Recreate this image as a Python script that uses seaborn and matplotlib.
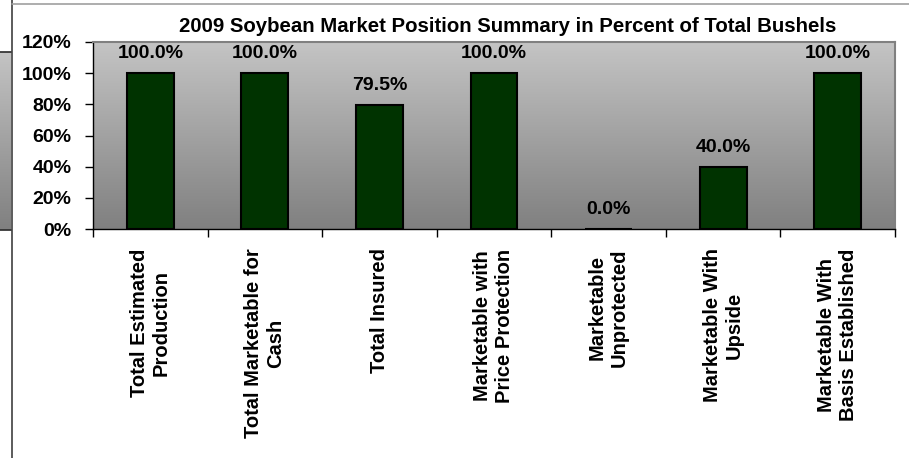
import numpy as np
import matplotlib.pyplot as plt
import seaborn as sns
from matplotlib.colors import LinearSegmentedColormap
from matplotlib.lines import Line2D

categories = [
    "Total Estimated\nProduction",
    "Total Marketable for\nCash",
    "Total Insured",
    "Marketable with\nPrice Protection",
    "Marketable\nUnprotected",
    "Marketable With\nUpside",
    "Marketable With\nBasis Established",
]
percent_of_bushels = [100.0, 100.0, 79.5, 100.0, 0.0, 40.0, 100.0]
y_ticks = [0, 20, 40, 60, 80, 100, 120]
title = "2009 Soybean Market Position Summary in Percent of Total Bushels"

sns.set_theme(style="white")
plt.rcParams["font.family"] = ["Liberation Sans", "DejaVu Sans"]
plt.rcParams["font.weight"] = "bold"
plt.rcParams["text.color"] = "black"
plt.rcParams["xtick.color"] = "black"
plt.rcParams["ytick.color"] = "black"

W, H = 909, 458
fig = plt.figure(figsize=(W / 100, H / 100), dpi=100)
fig.patch.set_facecolor("white")

# cropped neighbour chart on the far left, plus the sheet edges
grey = LinearSegmentedColormap.from_list("excel_grey", ["#808080", "#c4c4c4"])
grad = np.linspace(0, 1, 256).reshape(-1, 1)
side = fig.add_axes([0, 1 - 230 / H, 11 / W, (230 - 52) / H])
side.imshow(grad, cmap=grey, origin="lower", aspect="auto", extent=[0, 1, 0, 1])
side.set_xticks([])
side.set_yticks([])
for s in ["left", "right"]:
    side.spines[s].set_visible(False)
for s in ["top", "bottom"]:
    side.spines[s].set_color("#303030")
fig.add_artist(Line2D([11.5 / W, 11.5 / W], [0, 1], color="#404040", lw=1.2))
fig.add_artist(Line2D([11.5 / W, 1], [1 - 3.5 / H, 1 - 3.5 / H], color="#a0a0a0", lw=1.2))

ax = fig.add_axes([93 / W, 1 - 229 / H, (895 - 93) / W, (229 - 42) / H])
ax.imshow(grad, cmap=grey, origin="lower", extent=[0, 1, 0, 1],
          transform=ax.transAxes, aspect="auto", zorder=0)

sns.barplot(x=categories, y=percent_of_bushels, color="#003300", saturation=1,
            edgecolor="black", linewidth=1.5, width=0.41, ax=ax, zorder=2)

ax.bar_label(ax.containers[0], labels=[f"{v:.1f}%" for v in percent_of_bushels],
             padding=8, fontsize=14, fontweight="bold", color="black")

ax.set_xlim(-0.5, len(categories) - 0.5)
ax.set_ylim(0, 120)
ax.set_yticks(y_ticks)
ax.set_yticklabels([f"{t}%" for t in y_ticks], fontsize=14, fontweight="bold")
ax.set_xticklabels(categories, rotation=90, fontsize=14.5, fontweight="bold",
                   linespacing=1.2)
ax.set_xticks(np.arange(-0.5, len(categories)), minor=True)
ax.tick_params(axis="x", which="major", length=0, pad=14)
ax.tick_params(axis="x", which="minor", length=6, width=1, color="black",
               direction="out", bottom=True)
ax.tick_params(axis="y", length=6, width=1, color="black", direction="out",
               left=True, pad=9.5)
ax.set_xlabel("")
ax.set_ylabel("")
ax.grid(False)

for s in ["top", "right"]:
    ax.spines[s].set_color("#808080")
    ax.spines[s].set_linewidth(1.5)
for s in ["left", "bottom"]:
    ax.spines[s].set_color("#000000")
    ax.spines[s].set_linewidth(1.0)

fig.text(508 / W, 1 - 26 / H, title, ha="center", va="center",
         fontsize=14.7, fontweight="bold")

fig.savefig("out.png", dpi=100)
